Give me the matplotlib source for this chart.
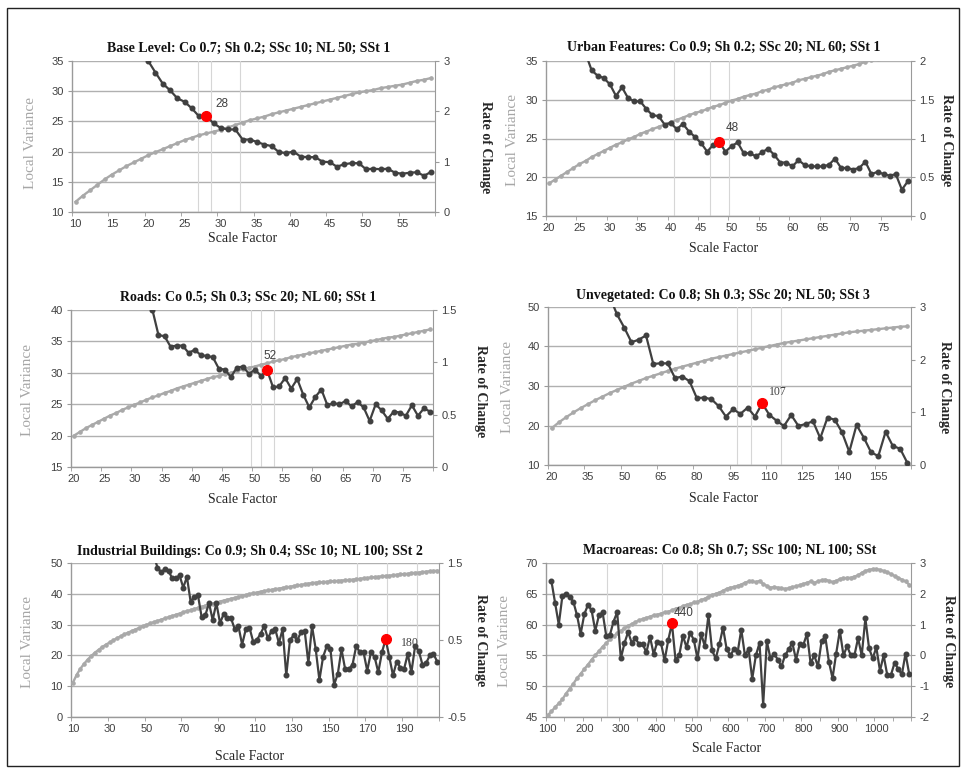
import matplotlib
matplotlib.use("Agg")
import matplotlib.pyplot as plt
from matplotlib.patches import Rectangle

plt.rcParams['font.family'] = ['Liberation Sans', 'DejaVu Sans']

W, H = 966, 773
fig = plt.figure(figsize=(W / 100, H / 100), dpi=100)

# ---------------- data ----------------
titles = [
    "Base Level: Co 0.7; Sh 0.2; SSc 10; NL 50; SSt 1",
    "Urban Features: Co 0.9; Sh 0.2; SSc 20; NL 60; SSt 1",
    "Roads: Co 0.5; Sh 0.3; SSc 20; NL 60; SSt 1",
    "Unvegetated: Co 0.8; Sh 0.3; SSc 20; NL 50; SSt 3",
    "Industrial Buildings: Co 0.9; Sh 0.4; SSc 10; NL 100; SSt 2",
    "Macroareas: Co 0.8; Sh 0.7; SSc 100; NL 100; SSt",
]

# Panel 1 - Base Level
p1_scale = list(range(10, 60))
p1_lv = [11.7, 12.7, 13.6, 14.5, 15.4, 16.2, 16.9, 17.6, 18.2, 18.8,
         19.4, 19.9, 20.4, 20.9, 21.4, 21.9, 22.3, 22.7, 23.0, 23.3,
         23.6, 24.0, 24.4, 24.8, 25.2, 25.5, 25.8, 26.2, 26.5, 26.8,
         27.1, 27.4, 27.7, 28.0, 28.3, 28.6, 28.9, 29.2, 29.5, 29.8,
         30.0, 30.2, 30.5, 30.7, 30.9, 31.1, 31.4, 31.7, 31.9, 32.2]
p1_roc_scale = list(range(19, 60))
p1_roc = [3.25, 3.00, 2.77, 2.55, 2.42, 2.26, 2.19, 2.06, 1.90, 1.91,
          1.76, 1.67, 1.64, 1.64, 1.44, 1.44, 1.39, 1.34, 1.31, 1.19,
          1.17, 1.20, 1.10, 1.09, 1.09, 1.00, 0.99, 0.90, 0.95, 0.97,
          0.97, 0.85, 0.86, 0.85, 0.86, 0.78, 0.76, 0.78, 0.79, 0.72,
          0.80]
p1_peak = 28
p1_vlines = [26.8, 28.6, 32.7]

# Panel 2 - Urban Features
p2_scale = list(range(20, 80))
p2_lv = [19.2, 19.7, 20.2, 20.7, 21.2, 21.7, 22.1, 22.6, 23.0, 23.4,
         23.8, 24.2, 24.5, 24.9, 25.2, 25.6, 25.9, 26.2, 26.5, 26.8,
         27.1, 27.4, 27.7, 28.0, 28.3, 28.5, 28.8, 29.1, 29.3, 29.6,
         29.9, 30.1, 30.4, 30.6, 30.8, 31.1, 31.3, 31.6, 31.8, 32.0,
         32.2, 32.5, 32.7, 32.9, 33.1, 33.3, 33.6, 33.8, 34.0, 34.2,
         34.4, 34.6, 34.9, 35.1, 35.3, 35.5, 35.7, 35.8, 36.0, 36.2]
p2_roc_scale = list(range(26, 80))
p2_roc = [2.10, 1.88, 1.81, 1.78, 1.70, 1.55, 1.66, 1.52, 1.48, 1.48,
          1.38, 1.30, 1.29, 1.18, 1.20, 1.12, 1.19, 1.09, 1.02, 0.94,
          0.83, 0.92, 0.95, 0.83, 0.90, 0.95, 0.81, 0.81, 0.77, 0.82,
          0.87, 0.79, 0.69, 0.69, 0.64, 0.72, 0.66, 0.64, 0.64, 0.64,
          0.66, 0.74, 0.62, 0.62, 0.60, 0.62, 0.70, 0.54, 0.57, 0.54,
          0.52, 0.54, 0.34, 0.45]
p2_peak = 48
p2_vlines = [40.5, 46.4, 49.6]

# Panel 3 - Roads
p3_scale = list(range(20, 80))
p3_lv = [20.0, 20.6, 21.2, 21.7, 22.2, 22.7, 23.2, 23.6, 24.1, 24.5,
         24.9, 25.3, 25.7, 26.1, 26.4, 26.8, 27.1, 27.5, 27.8, 28.1,
         28.4, 28.7, 29.0, 29.3, 29.5, 29.8, 30.0, 30.3, 30.6, 30.8,
         31.0, 31.3, 31.5, 31.8, 32.0, 32.2, 32.5, 32.7, 32.9, 33.1,
         33.3, 33.5, 33.7, 33.9, 34.1, 34.3, 34.5, 34.6, 34.8, 35.0,
         35.2, 35.4, 35.6, 35.7, 35.9, 36.1, 36.3, 36.5, 36.7, 36.9]
p3_roc_scale = list(range(32, 80))
p3_roc = [1.65, 1.50, 1.26, 1.25, 1.15, 1.16, 1.16, 1.09, 1.12, 1.07,
          1.06, 1.05, 0.94, 0.93, 0.86, 0.95, 0.96, 0.89, 0.93, 0.87,
          0.925, 0.76, 0.77, 0.85, 0.75, 0.84, 0.69, 0.57, 0.67, 0.74,
          0.59, 0.61, 0.60, 0.63, 0.58, 0.62, 0.57, 0.44, 0.60, 0.54,
          0.46, 0.53, 0.52, 0.49, 0.59, 0.49, 0.56, 0.53]
p3_peak = 52
p3_vlines = [49.3, 51.0, 53.2]

# Panel 4 - Unvegetated
p4_scale = list(range(20, 170, 3))
p4_lv = [19.3, 20.8, 22.1, 23.3, 24.4, 25.4, 26.4, 27.3, 28.2, 29.0,
         29.8, 30.6, 31.3, 32.0, 32.6, 33.2, 33.8, 34.4, 34.9, 35.4,
         35.9, 36.4, 36.9, 37.3, 37.7, 38.1, 38.5, 38.9, 39.3, 39.7,
         40.1, 40.5, 40.9, 41.2, 41.5, 41.8, 42.1, 42.4, 42.7, 43.0,
         43.3, 43.6, 43.8, 44.0, 44.2, 44.4, 44.6, 44.8, 45.0, 45.1]
p4_roc_scale = list(range(44, 170, 3))
p4_roc = [3.20, 2.86, 2.61, 2.33, 2.38, 2.46, 1.92, 1.93, 1.93, 1.65,
          1.68, 1.59, 1.27, 1.28, 1.25, 1.12, 0.92, 1.06, 0.97, 1.09,
          0.92, 1.17, 0.95, 0.84, 0.74, 0.95, 0.74, 0.78, 0.83, 0.51,
          0.90, 0.86, 0.62, 0.25, 0.76, 0.52, 0.24, 0.17, 0.63, 0.36,
          0.31, 0.04]
p4_peak = 107
p4_vlines = [96.7, 102.4, 114.7]

# Panel 5 - Industrial Buildings
p5_scale = list(range(10, 210, 2))
p5_lv = [11.1, 13.6, 15.6, 17.2, 18.6, 19.8, 20.9, 21.8, 22.7, 23.5,
         24.2, 24.9, 25.6, 26.2, 26.8, 27.4, 27.9, 28.4, 28.9, 29.4,
         29.9, 30.4, 30.8, 31.2, 31.6, 32.0, 32.4, 32.8, 33.2, 33.6,
         34.0, 34.4, 34.7, 35.1, 35.4, 35.8, 36.1, 36.5, 36.8, 37.1,
         37.5, 37.8, 38.1, 38.4, 38.7, 39.0, 39.3, 39.6, 39.9, 40.2,
         40.4, 40.7, 40.9, 41.1, 41.3, 41.5, 41.7, 41.9, 42.1, 42.3,
         42.5, 42.7, 42.9, 43.1, 43.3, 43.5, 43.6, 43.7, 43.8, 43.9,
         44.0, 44.1, 44.2, 44.3, 44.4, 44.5, 44.6, 44.7, 44.9, 45.0,
         45.1, 45.3, 45.4, 45.5, 45.7, 45.8, 45.9, 46.0, 46.2, 46.3,
         46.4, 46.5, 46.7, 46.8, 46.9, 47.0, 47.2, 47.3, 47.4, 47.5]
p5_roc_scale = list(range(54, 210, 2))
p5_roc = [1.60, 1.44, 1.38, 1.42, 1.40, 1.30, 1.30, 1.34, 1.18, 1.32,
          1.00, 1.06, 1.08, 0.80, 0.82, 0.98, 0.76, 0.98, 0.72, 0.84,
          0.78, 0.78, 0.64, 0.68, 0.44, 0.64, 0.66, 0.48, 0.50, 0.58,
          0.68, 0.52, 0.62, 0.64, 0.46, 0.64, 0.04, 0.50, 0.56, 0.50,
          0.60, 0.62, 0.20, 0.68, 0.38, -0.02, 0.28, 0.42, 0.38, -0.08,
          0.06, 0.38, 0.12, 0.12, 0.18, 0.42, 0.34, 0.34, 0.10, 0.34,
          0.28, 0.08, 0.34, 0.51, 0.28, 0.04, 0.22, 0.14, 0.12, 0.32,
          0.08, 0.42, 0.36, 0.18, 0.20, 0.30, 0.32, 0.22]
p5_peak = 180
p5_vlines = [164.6, 180.6, 196.8]

# Panel 6 - Macroareas
p6_scale = list(range(100, 1100, 10))
p6_lv = [45.3, 45.9, 46.6, 47.2, 47.9, 48.8, 49.6, 50.4, 51.3, 52.0,
         52.8, 53.5, 54.3, 55.0, 55.7, 56.4, 57.0, 57.6, 58.1, 58.6,
         59.0, 59.4, 59.8, 60.1, 60.4, 60.7, 60.9, 61.1, 61.3, 61.5,
         61.6, 61.8, 62.0, 62.1, 62.3, 62.6, 62.7, 63.0, 63.2, 63.3,
         63.6, 63.7, 64.0, 64.2, 64.5, 64.8, 65.0, 65.2, 65.5, 65.8,
         66.0, 66.1, 66.3, 66.5, 66.8, 67.0, 67.0, 66.9, 67.1, 66.6,
         66.3, 66.0, 66.1, 66.0, 65.9, 65.8, 65.9, 66.1, 66.2, 66.4,
         66.6, 66.8, 67.0, 66.8, 67.0, 67.2, 67.3, 67.1, 66.9, 67.1,
         67.4, 67.5, 67.6, 67.6, 67.8, 68.0, 68.4, 68.7, 68.9, 69.0,
         69.0, 68.9, 68.7, 68.5, 68.2, 67.9, 67.6, 67.3, 67.0, 66.5]
p6_roc_scale = list(range(110, 1100, 10))
p6_roc = [2.40, 1.70, 1.00, 1.94, 2.00, 1.90, 1.74, 1.30, 0.70, 1.34,
          1.64, 1.46, 0.80, 1.30, 1.40, 0.64, 0.66, 1.10, 1.40, -0.10,
          0.40, 0.76, 0.40, 0.56, 0.36, 0.36, 0.10, 0.60, 0.04, 0.44,
          0.40, -0.16, 0.50, 1.04, -0.16, 0.00, 0.64, 0.26, 0.74, 0.50,
          -0.10, 0.70, 0.30, 1.30, 0.16, -0.10, 0.36, 0.90, 0.20, 0.00,
          0.20, 0.10, 0.84, 0.00, 0.20, -0.76, 0.00, 0.40, -1.60, 0.46,
          -0.10, 0.06, -0.14, -0.36, 0.00, 0.20, 0.40, -0.14, 0.36, 0.34,
          0.70, -0.26, 0.00, -0.36, 0.46, 0.62, -0.20, -0.74, 0.06, 0.80,
          0.00, 0.30, 0.00, 0.00, 0.56, 0.00, 1.20, 0.24, -0.10, 0.26,
          -0.50, 0.00, -0.64, -0.64, -0.24, -0.44, -0.62, 0.06, -0.60]
p6_peak = 440
p6_vlines = [261, 412, 509]

# axis scales and ticks
x_ticks = [list(range(10, 60, 5)), list(range(20, 80, 5)), list(range(20, 80, 5)),
           list(range(20, 170, 15)), list(range(10, 210, 20)), list(range(100, 1100, 100))]
left_ticks = [[10, 15, 20, 25, 30, 35], [15, 20, 25, 30, 35], [15, 20, 25, 30, 35, 40],
              [10, 20, 30, 40, 50], [0, 10, 20, 30, 40, 50], [45, 50, 55, 60, 65, 70]]
right_ticks = [[0, 1, 2, 3], [0, 0.5, 1, 1.5, 2], [0, 0.5, 1, 1.5],
               [0, 1, 2, 3], [-0.5, 0.5, 1.5], [-2, -1, 0, 1, 2, 3]]

data = [
    (p1_scale, p1_lv, p1_roc_scale, p1_roc, p1_peak, p1_vlines),
    (p2_scale, p2_lv, p2_roc_scale, p2_roc, p2_peak, p2_vlines),
    (p3_scale, p3_lv, p3_roc_scale, p3_roc, p3_peak, p3_vlines),
    (p4_scale, p4_lv, p4_roc_scale, p4_roc, p4_peak, p4_vlines),
    (p5_scale, p5_lv, p5_roc_scale, p5_roc, p5_peak, p5_vlines),
    (p6_scale, p6_lv, p6_roc_scale, p6_roc, p6_peak, p6_vlines),
]

# ---------------- layout (pixels) ----------------
# plot boxes: left, top, right, bottom
boxes = [(72, 61, 435, 212), (546, 61, 911, 216), (71, 310, 433, 467),
         (548, 307, 911, 465), (71, 563, 439, 717), (546, 563, 911, 717)]
steps = [1, 1, 1, 3, 2, 10]
minor_every = [5, 5, 5, 5, 10, 5]
title_pos = [(249, 48), (724, 47), (248, 297), (723, 296), (250, 551), (730, 550)]
xlabel_pos = [(243, 238), (724, 248), (243, 499), (724, 498), (250, 757), (727, 748)]
lv_pos = [(30, 143), (513, 140), (28, 390), (508, 387), (28, 642), (505, 641)]
roc_pos = [(485, 147), (946, 140), (480, 391), (945, 387), (480, 640), (948, 641)]
label_offsets = [(11.5, 8.4), (9.1, 10.1), (1.9, 10.1), (11.5, 7.9), (17.5, -2.9), (8.4, 7.7)]
label_serif = [False, False, False, True, True, False]

LIGHT = '#a9a9a9'
DARK = '#404040'
GRID = '#b0b0b0'
SPINE = '#9a9a9a'
TICKC = '#404040'
SERIF = ['Liberation Serif', 'DejaVu Serif']
SANS = ['Liberation Sans', 'DejaVu Sans']


def box(l, t, r, b):
    return [l / W, 1 - b / H, (r - l) / W, (b - t) / H]


def fmt(v):
    return f"{v:g}"


for k in range(6):
    xs, lv, rxs, roc, peak, vls = data[k]
    l, t, r, b = boxes[k]
    st = steps[k]
    ax = fig.add_axes(box(l, t, r, b))
    for v in vls:
        ax.axvline(v, color='#d6d6d6', lw=0.8, zorder=1)
    ax.plot(xs, lv, color=LIGHT, lw=1.7, marker='o', ms=2.3, zorder=3)
    ax.set_xlim(xs[0] - st / 2, xs[-1] + st / 2)
    lt = left_ticks[k]
    ax.set_ylim(lt[0], lt[-1])
    ax.set_yticks(lt)
    ax.set_yticklabels([fmt(v) for v in lt])
    ax.set_xticks(x_ticks[k])
    ax.set_xticklabels([str(v) for v in x_ticks[k]])
    me = minor_every[k] * st
    minors = []
    m = xs[0] - st / 2
    while m <= xs[-1] + st / 2 + 1e-9:
        minors.append(m)
        m += me
    ax.set_xticks(minors, minor=True)
    ax.yaxis.grid(True, color=GRID, lw=1.0, zorder=0)
    ax.set_axisbelow(True)
    for s in ['top', 'right']:
        ax.spines[s].set_visible(False)
    for s in ['left', 'bottom']:
        ax.spines[s].set_color(SPINE)
        ax.spines[s].set_linewidth(1.0)
    ax.tick_params(axis='y', direction='out', length=3, color=SPINE,
                   labelsize=8, labelcolor=TICKC, pad=3)
    ax.tick_params(axis='x', which='major', length=0, labelsize=8,
                   labelcolor=TICKC, pad=5)
    ax.tick_params(axis='x', which='minor', direction='out', length=3, color=SPINE)

    ax2 = ax.twinx()
    ax2.plot(rxs, roc, color=DARK, lw=1.6, marker='o', ms=3.3, zorder=3)
    pv = roc[rxs.index(peak)]
    ax2.plot([peak], [pv], 'o', color='#ff0000', ms=7, zorder=5)
    ax2.annotate(str(peak), (peak, pv), xytext=label_offsets[k], textcoords='offset points',
                 ha='center', va='center', fontsize=8.5, color=TICKC,
                 family=SERIF if label_serif[k] else SANS)
    rt = right_ticks[k]
    ax2.set_ylim(rt[0], rt[-1])
    ax2.set_yticks(rt)
    ax2.set_yticklabels([fmt(v) for v in rt])
    ax2.set_xlim(xs[0] - st / 2, xs[-1] + st / 2)
    for s in ['top', 'left', 'bottom']:
        ax2.spines[s].set_visible(False)
    ax2.spines['right'].set_color(SPINE)
    ax2.tick_params(axis='y', direction='out', length=3, color=SPINE,
                    labelsize=8, labelcolor=TICKC, pad=3)

    tx, ty = title_pos[k]
    fig.text(tx / W, 1 - ty / H, titles[k], ha='center', va='center',
             fontsize=10, fontweight='bold', family=SERIF, color='#111111')
    xx, xy = xlabel_pos[k]
    fig.text(xx / W, 1 - xy / H, "Scale Factor", ha='center', va='center',
             fontsize=10, family=SERIF, color='#262626')
    lx, ly = lv_pos[k]
    fig.text(lx / W, 1 - ly / H, "Local Variance", ha='center', va='center',
             rotation=90, fontsize=11, family=SERIF, color='#a6a6a6')
    rx, ry = roc_pos[k]
    fig.text(rx / W, 1 - ry / H, "Rate of Change", ha='center', va='center',
             rotation=-90, fontsize=10, fontweight='bold', family=SERIF, color='#262626')

fig.patches.append(Rectangle((7 / W, 1 - 766 / H), (959 - 7) / W, (766 - 8) / H,
                             transform=fig.transFigure, fill=False,
                             edgecolor='#222222', lw=1.0))

fig.savefig("out.png", dpi=100)
